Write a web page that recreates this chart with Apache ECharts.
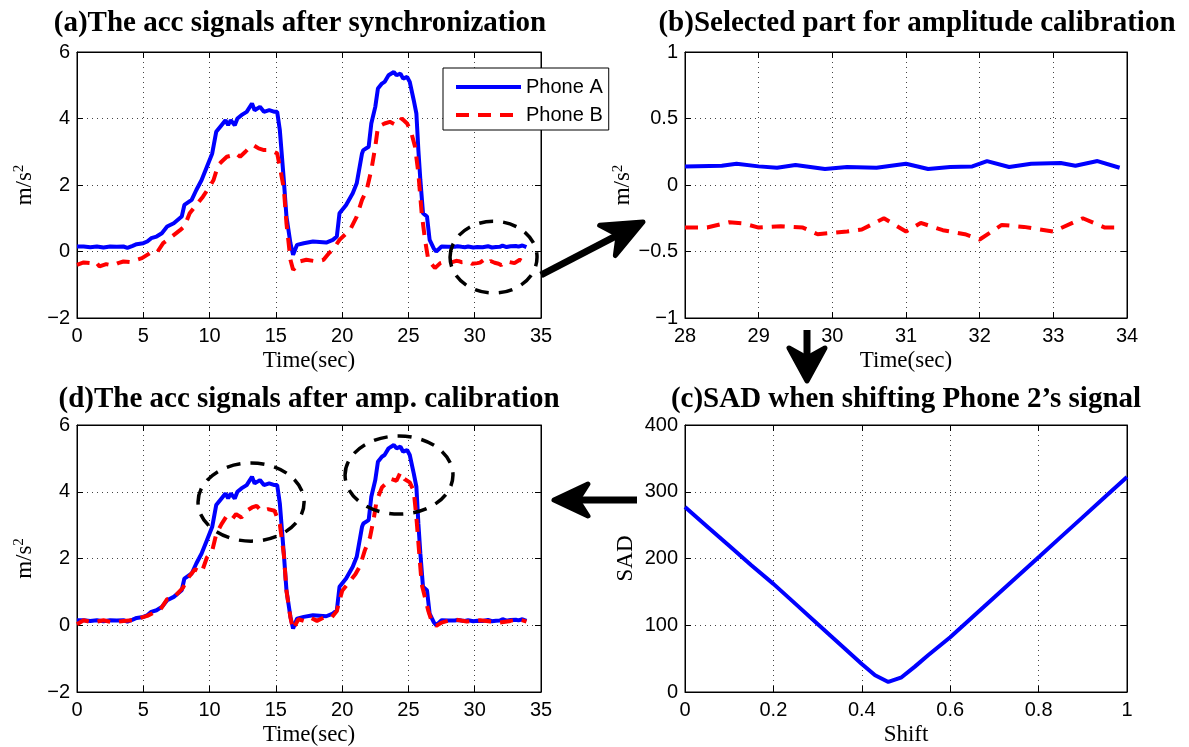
<!DOCTYPE html>
<html><head><meta charset="utf-8">
<script src="https://cdn.jsdelivr.net/npm/echarts@6/dist/echarts.min.js"></script>
<style>html,body{margin:0;padding:0;background:#fff}#c{width:1189px;height:747px}</style>
</head><body><div id="c"></div><script>
// ---------- DATA ----------
// Panel (a)/(d): Phone A acceleration [time(sec), m/s^2]
const phoneA = [[0,0.15],[0.5,0.15],[1,0.13],[1.5,0.15],[2,0.12],[2.5,0.15],[3,0.14],[3.5,0.15],[3.8,0.11],[4.2,0.17],[4.5,0.22],[5,0.25],[5.3,0.3],[5.6,0.4],[6,0.45],[6.4,0.55],[6.8,0.75],[7.3,0.85],[7.9,1.05],[8.1,1.4],[8.65,1.55],[9,1.85],[9.4,2.15],[9.8,2.55],[10.2,2.95],[10.5,3.6],[10.9,3.8],[11.2,3.95],[11.4,3.8],[11.6,3.95],[11.9,3.8],[12.1,4.0],[12.4,4.1],[12.8,4.2],[13.2,4.45],[13.4,4.25],[13.8,4.35],[14.1,4.2],[14.5,4.25],[14.9,4.2],[15.1,4.2],[15.3,3.65],[15.6,2.15],[15.8,1.05],[16.1,0.25],[16.3,-0.1],[16.6,0.2],[17.1,0.25],[17.8,0.3],[18.8,0.27],[19.3,0.35],[19.6,0.45],[19.8,1.15],[20.3,1.4],[20.8,1.75],[21.1,2.05],[21.5,2.95],[21.6,3.05],[22.0,3.15],[22.2,3.85],[22.5,4.35],[22.7,4.9],[23.0,5.05],[23.2,5.1],[23.5,5.3],[23.9,5.4],[24.1,5.3],[24.4,5.35],[24.6,5.2],[24.9,5.25],[25.1,5.1],[25.4,4.55],[25.6,4.15],[25.75,3.05],[25.9,2.15],[26.1,1.15],[26.4,1.05],[26.6,0.35],[26.9,0.1],[27.1,0.0],[27.5,0.15]];
// Panel (a): Phone B before calibration
const phoneB = [[0,-0.4],[0.5,-0.33],[1.0,-0.35],[1.4,-0.3],[1.7,-0.45],[2.2,-0.38],[2.7,-0.42],[3.1,-0.35],[3.5,-0.3],[4.0,-0.32],[4.5,-0.25],[4.9,-0.2],[5.5,-0.05],[6.0,-0.05],[6.5,0.25],[7.0,0.4],[7.8,0.65],[8.1,0.75],[8.5,1.15],[9.0,1.4],[9.5,1.65],[10.0,1.95],[10.3,2.15],[10.65,2.6],[10.9,2.7],[11.3,2.85],[11.8,2.9],[12.0,2.95],[12.3,2.85],[12.7,3.0],[13.05,3.15],[13.3,3.2],[13.7,3.1],[14.1,3.05],[14.6,3.05],[15.1,2.95],[15.3,2.55],[15.6,1.9],[15.8,0.85],[16.1,-0.25],[16.3,-0.55],[16.6,-0.45],[16.8,-0.3],[17.3,-0.25],[18.1,-0.3],[18.6,-0.25],[19.0,-0.05],[19.3,0.05],[19.8,0.35],[20.6,0.65],[21.1,1.05],[21.5,1.55],[21.85,1.85],[22.2,2.45],[22.5,3.15],[22.7,3.75],[23.2,3.85],[23.6,3.9],[24.1,3.8],[24.5,4.0],[24.9,3.85],[25.2,3.6],[25.5,3.15],[25.75,2.35],[26.0,1.15],[26.25,0.35],[26.5,-0.25],[27.0,-0.5],[27.4,-0.35],[27.8,-0.3]];
// Panel (b): selected part 28-34 s
const selA = [[28.0,0.14],[28.5,0.145],[28.7,0.16],[29.0,0.14],[29.25,0.13],[29.5,0.15],[29.9,0.12],[30.2,0.135],[30.6,0.13],[31.0,0.16],[31.3,0.12],[31.6,0.135],[31.9,0.14],[32.1,0.18],[32.4,0.135],[32.7,0.16],[33.1,0.165],[33.3,0.145],[33.6,0.18],[33.9,0.13]];
const selB = [[28.0,-0.32],[28.3,-0.32],[28.6,-0.28],[28.8,-0.29],[29.0,-0.32],[29.3,-0.31],[29.6,-0.32],[29.8,-0.37],[30.2,-0.35],[30.4,-0.335],[30.7,-0.25],[31.0,-0.35],[31.2,-0.285],[31.5,-0.34],[31.8,-0.37],[32.0,-0.41],[32.3,-0.3],[32.6,-0.315],[33.0,-0.35],[33.4,-0.25],[33.7,-0.32],[33.9,-0.32]];
// Panel (c): SAD vs shift
const shift = [0,0.05,0.1,0.15,0.2,0.25,0.3,0.35,0.4,0.43,0.46,0.49,0.52,0.55,0.6,0.65,0.7,0.75,0.8,0.85,0.9,0.95,1.0];
const sad   = [277,248,219,190,162,132,102,72,42,25,15,22,38,55,82,112,142,172,202,232,262,292,322];
// Panel (d): Phone B after amplitude calibration
const phoneBcal = [[0,0.03],[0.5,0.15],[1.2,0.08],[2.0,0.15],[2.7,0.08],[3.5,0.13],[4.2,0.15],[5.3,0.28],[5.8,0.38],[6.3,0.48],[6.8,0.78],[7.3,0.83],[8.0,1.13],[8.4,1.43],[8.9,1.68],[9.4,1.58],[9.8,2.03],[10.2,2.23],[10.5,2.73],[10.9,3.03],[11.3,3.28],[11.7,3.18],[12.0,3.33],[12.4,3.23],[12.8,3.43],[13.2,3.53],[13.55,3.58],[13.9,3.43],[14.4,3.48],[14.9,3.43],[15.3,3.03],[15.6,2.13],[15.8,1.03],[16.1,0.23],[16.3,-0.12],[16.7,0.18],[17.1,0.13],[17.6,0.23],[18.1,0.13],[18.6,0.23],[19.2,0.23],[19.6,0.43],[20.0,1.03],[20.5,1.28],[21.0,1.53],[21.35,1.78],[21.7,2.23],[22.1,2.63],[22.4,3.23],[22.6,3.73],[23.0,4.13],[23.4,4.28],[23.7,4.38],[24.1,4.33],[24.4,4.58],[24.7,4.38],[25.1,4.28],[25.4,4.03],[25.6,3.23],[25.8,2.23],[26.0,1.23],[26.25,0.83],[26.5,0.43],[26.75,0.13],[27.1,-0.02],[27.5,0.08],[28.4,0.18],[29.4,0.11],[30.4,0.15],[31.2,0.11],[31.9,0.08],[32.7,0.13],[33.3,0.18],[33.9,0.11]];
const seriesNames = ['Phone A','Phone B'];
const titles = ['(a)The acc signals after synchronization','(b)Selected part for amplitude calibration','(c)SAD when shifting Phone 2\u2019s signal','(d)The acc signals after amp. calibration'];
const xNames = ['Time(sec)','Time(sec)','Shift','Time(sec)'];
const yNames = ['{a|m/s}{b|2}','{a|m/s}{b|2}','SAD','{a|m/s}{b|2}'];
// annotation ellipses in data units: [panel, cx, cy, rx, ry]
const ellipses = [[0,31.42,-0.17,3.28,1.08],[3,13.13,3.69,4.0,1.17],[3,24.29,4.5,4.07,1.17]];

// ---------- CHART ----------
const chart = echarts.init(document.getElementById('c'), null, {renderer:'canvas'});
const SANS = '"Liberation Sans", Arial, sans-serif';
const SERIF = '"Liberation Serif", "Times New Roman", serif';
const BLUE = '#0000ff', RED = '#ff0000';
const grids = [
  {left:77, top:52, width:464, height:266},
  {left:685, top:52, width:442, height:266},
  {left:685, top:425, width:442, height:267},
  {left:77, top:425, width:464, height:267}
];
const xr = [[0,35,5],[28,34,1],[0,1,0.2],[0,35,5]];
const yr = [[-2,6,2],[-1,1,0.5],[0,400,100],[-2,6,2]];
const fmt = v => String(+v.toFixed(6)).replace('-', '\u2212');
const richName = {a:{fontFamily:SERIF,fontSize:23,color:'#000'},b:{fontFamily:SERIF,fontSize:15,color:'#000',verticalAlign:'top',padding:[0,0,10,0]}};
const xAxis = [], yAxis = [];
for (let i=0;i<4;i++){
  xAxis.push({type:'value', gridIndex:i, min:xr[i][0], max:xr[i][1], interval:xr[i][2], position:'bottom',
    name:xNames[i], nameLocation:'middle', nameGap:31, nameTextStyle:{fontFamily:SERIF,fontSize:23,color:'#000'},
    axisLine:{show:true,onZero:false,lineStyle:{color:'#000',width:1}},
    axisTick:{show:true,inside:true,length:6,lineStyle:{color:'#000'}},
    axisLabel:{formatter:fmt,fontFamily:SANS,fontSize:20,color:'#000',margin:8},
    splitLine:{show:true,lineStyle:{color:'#444',width:1,type:[1,4]}}});
  yAxis.push({type:'value', gridIndex:i, min:yr[i][0], max:yr[i][1], interval:yr[i][2], position:'left',
    name:yNames[i], nameLocation:'middle', nameGap: i===2?48:40, nameRotate:90,
    nameTextStyle:{fontFamily:SERIF,fontSize:23,color:'#000',rich:richName},
    axisLine:{show:true,onZero:false,lineStyle:{color:'#000',width:1}},
    axisTick:{show:true,inside:true,length:6,lineStyle:{color:'#000'}},
    axisLabel:{formatter:fmt,fontFamily:SANS,fontSize:20,color:'#000',margin:7},
    splitLine:{show:true,lineStyle:{color:'#444',width:1,type:[1,4]}}});
}
for (let i=0;i<4;i++){
  xAxis.push({type:'value', gridIndex:i, min:xr[i][0], max:xr[i][1], interval:xr[i][2], position:'top',
    axisLine:{show:true,onZero:false,lineStyle:{color:'#000'}}, axisTick:{show:true,inside:true,length:6,lineStyle:{color:'#000'}},
    axisLabel:{show:false}, splitLine:{show:false}});
  yAxis.push({type:'value', gridIndex:i, min:yr[i][0], max:yr[i][1], interval:yr[i][2], position:'right',
    axisLine:{show:true,onZero:false,lineStyle:{color:'#000'}}, axisTick:{show:true,inside:true,length:6,lineStyle:{color:'#000'}},
    axisLabel:{show:false}, splitLine:{show:false}});
}
const lineA = {type:'line', showSymbol:false, symbol:'none', animation:false, lineStyle:{color:BLUE,width:4}, itemStyle:{color:BLUE}};
const lineB = {type:'line', showSymbol:false, symbol:'none', animation:false, lineStyle:{color:RED,width:4,type:[13,9]}, itemStyle:{color:RED}};
const series = [
  Object.assign({}, lineA, {name:seriesNames[0], xAxisIndex:0, yAxisIndex:0, data:phoneA.concat(selA)}),
  Object.assign({}, lineB, {name:seriesNames[1], xAxisIndex:0, yAxisIndex:0, data:phoneB.concat(selB)}),
  Object.assign({}, lineA, {name:seriesNames[0], xAxisIndex:1, yAxisIndex:1, data:selA}),
  Object.assign({}, lineB, {name:seriesNames[1], xAxisIndex:1, yAxisIndex:1, data:selB}),
  Object.assign({}, lineA, {name:'SAD', xAxisIndex:2, yAxisIndex:2, data:shift.map((s,k)=>[s,sad[k]])}),
  Object.assign({}, lineA, {name:seriesNames[0], xAxisIndex:3, yAxisIndex:3, data:phoneA.concat(selA)}),
  Object.assign({}, lineB, {name:seriesNames[1], xAxisIndex:3, yAxisIndex:3, data:phoneBcal})
];
chart.setOption({
  animation:false,
  backgroundColor:'#fff',
  grid: grids.map(g=>Object.assign({show:true,borderColor:'#000',borderWidth:1,backgroundColor:'transparent'},g)),
  xAxis, yAxis, series,
  legend:{data:seriesNames, orient:'vertical', left:443, top:68, itemWidth:65, itemHeight:14, itemGap:8,
    padding:[9,6,5,11], backgroundColor:'#fff', borderColor:'#000', borderWidth:1, borderRadius:0,
    itemStyle:{opacity:0}, lineStyle:{width:4},
    textStyle:{fontFamily:SANS,fontSize:20,color:'#000',lineHeight:20}, selectedMode:false}
});

// ---------- ANNOTATIONS ----------
const graphics = [];
const titlePos = [[300,24],[917,24],[906,400],[309,400]];
titles.forEach((t,i)=>graphics.push({type:'text', x:titlePos[i][0], y:titlePos[i][1], z:10,
  style:{text:t, font:'bold 29px '+SERIF, fill:'#000', align:'center', verticalAlign:'middle'}}));
ellipses.forEach(e=>{
  const c = chart.convertToPixel({xAxisIndex:e[0], yAxisIndex:e[0]}, [e[1], e[2]]);
  const p = chart.convertToPixel({xAxisIndex:e[0], yAxisIndex:e[0]}, [e[1]+e[3], e[2]+e[4]]);
  graphics.push({type:'ellipse', z:20, shape:{cx:c[0], cy:c[1], rx:Math.abs(p[0]-c[0]), ry:Math.abs(p[1]-c[1])},
    style:{fill:'none', stroke:'#000', lineWidth:3.5, lineDash:[14,10]}});
});
function arrow(x1,y1,x2,y2,L,W){
  const dx=x2-x1, dy=y2-y1, len=Math.hypot(dx,dy), ux=dx/len, uy=dy/len, px=-uy, py=ux;
  const bx=x2-L*ux, by=y2-L*uy, nx=x2-L*0.7*ux, ny=y2-L*0.7*uy;
  graphics.push({type:'polyline', z:20, shape:{points:[[x1,y1],[nx,ny]]}, style:{stroke:'#000', lineWidth:7, fill:'none'}});
  graphics.push({type:'polygon', z:20, shape:{points:[[x2,y2],[bx+W*px,by+W*py],[nx,ny],[bx-W*px,by-W*py]]},
    style:{fill:'#000', stroke:'#000', lineWidth:5, lineJoin:'round'}});
}
arrow(541,275,643,222,40,17);
arrow(807,330,807,381,33,18);
arrow(637,500,554,500,34,16);
chart.setOption({graphic: graphics});
</script></body></html>
